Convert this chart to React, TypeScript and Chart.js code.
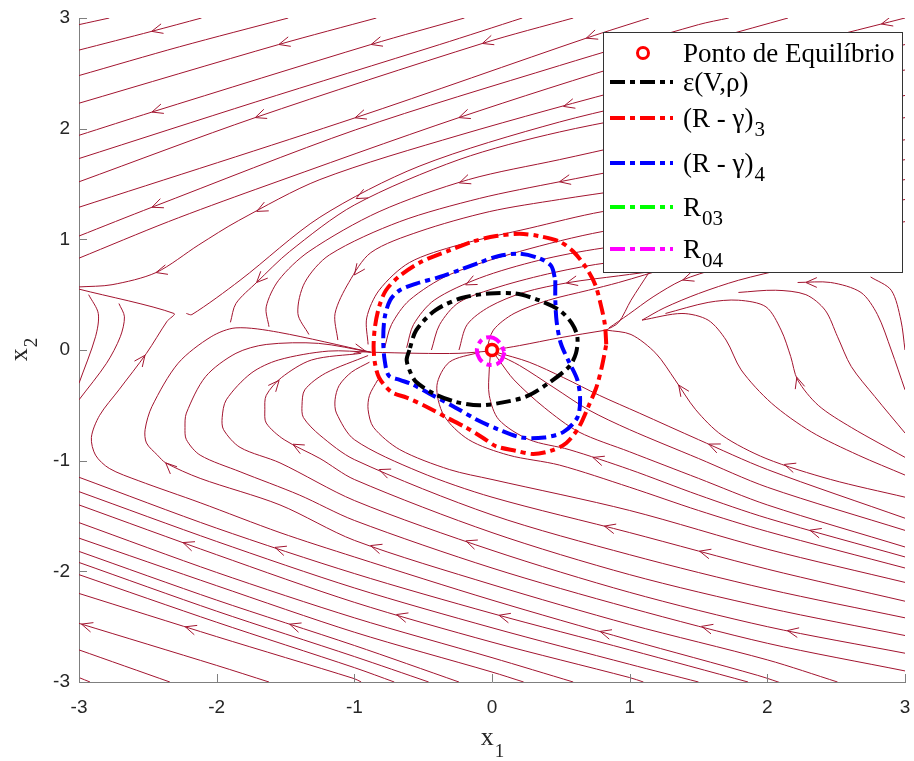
import React, { useEffect, useRef } from 'react';
import { Chart, registerables } from 'chart.js';

Chart.register(...registerables);

type Pt = [number, number];

// ---------------- axes ----------------
const xTickValues = [-3, -2, -1, 0, 1, 2, 3];
const yTickValues = [-3, -2, -1, 0, 1, 2, 3];

// ---------------- equilibrium point and regions ----------------
const equilibriumPoint: Pt[] = [[0, 0]];

const ellipseEps: Pt[] = [
  [-0.6, 0.0], [-0.62, -0.09], [-0.59, -0.21], [-0.55, -0.29], [-0.43, -0.39], [-0.26, -0.47],
  [-0.09, -0.5], [0.05, -0.48], [0.25, -0.42], [0.41, -0.3], [0.56, -0.15], [0.61, -0.03],
  [0.62, 0.12], [0.58, 0.24], [0.49, 0.36], [0.34, 0.45], [0.17, 0.51], [-0.02, 0.51],
  [-0.22, 0.47], [-0.41, 0.36], [-0.55, 0.18], [-0.6, 0.0],
];

const regionR3: Pt[] = [
  [0.83, 0.05], [0.82, 0.23], [0.79, 0.41], [0.75, 0.59], [0.68, 0.75], [0.59, 0.89], [0.49, 0.98],
  [0.34, 1.03], [0.2, 1.05], [0.03, 1.03], [-0.14, 0.98], [-0.31, 0.9], [-0.51, 0.8], [-0.67, 0.67],
  [-0.77, 0.54], [-0.82, 0.39], [-0.85, 0.21], [-0.86, 0.03], [-0.85, -0.12], [-0.82, -0.25],
  [-0.73, -0.38], [-0.62, -0.43], [-0.48, -0.51], [-0.33, -0.61], [-0.19, -0.7], [-0.07, -0.79],
  [0.03, -0.87], [0.17, -0.91], [0.3, -0.94], [0.43, -0.91], [0.54, -0.84], [0.63, -0.7],
  [0.7, -0.51], [0.76, -0.33], [0.8, -0.14], [0.83, 0.05],
];

const regionR4: Pt[] = [
  [0.46, 0.63], [0.46, 0.45], [0.47, 0.25], [0.5, 0.06], [0.56, -0.11], [0.62, -0.27], [0.64, -0.45],
  [0.62, -0.61], [0.52, -0.74], [0.38, -0.79], [0.21, -0.79], [0.05, -0.72], [-0.11, -0.63],
  [-0.28, -0.51], [-0.46, -0.39], [-0.58, -0.31], [-0.67, -0.27], [-0.75, -0.23], [-0.78, -0.09],
  [-0.79, 0.09], [-0.78, 0.29], [-0.74, 0.45], [-0.67, 0.54], [-0.55, 0.6], [-0.38, 0.66],
  [-0.22, 0.73], [-0.09, 0.79], [0.05, 0.85], [0.2, 0.87], [0.34, 0.83], [0.43, 0.76], [0.46, 0.63],
];

const regionR03: Pt[] = [
  [0.04, 0.0], [0.03, 0.035], [0.0, 0.05], [-0.03, 0.035], [-0.04, 0.0], [-0.03, -0.035], [0.0, -0.05],
  [0.03, -0.035], [0.04, 0.0],
];

const regionR04: Pt[] = [
  [0.09, -0.02], [0.07, -0.09], [0.03, -0.13], [-0.04, -0.13], [-0.09, -0.08], [-0.11, 0.0],
  [-0.09, 0.07], [-0.05, 0.11], [0.01, 0.11], [0.06, 0.06], [0.09, -0.02],
];

// ---------------- streamlines ----------------
const upperStreams: Pt[][] = [
  [[-3, 2.94], [-2.78, 3.0]],
  [[-3, 2.71], [-2.47, 2.88], [-2.11, 3.0]],
  [[-3, 2.48], [-2.27, 2.74], [-1.48, 3.0]],
  [[-3, 2.23], [-1.55, 2.76], [-0.84, 3.0]],
  [[-3, 1.94], [-2.47, 2.15], [-0.88, 2.76], [-0.2, 3.0]],
  [[-3, 1.73], [-1.72, 2.24], [-0.38, 2.76], [0.22, 3.0]],
  [[-3, 1.52], [-1.72, 2.1], [-0.07, 2.77], [0.59, 3.0]],
  [[-3, 1.29], [-0.99, 2.1], [0.69, 2.82], [1.14, 3.0]],
  [[-3, 1.03], [-2.47, 1.29], [-0.99, 1.99], [0.49, 2.57], [1.5, 2.94], [1.72, 3.0]],
  [[-3, 0.83], [-2.35, 1.16], [-1.72, 1.45], [-0.24, 2.1], [1.07, 2.62], [2.15, 3.0]],
  [[-3, 0.57], [-2.76, 0.59], [-2.44, 0.7], [-2.13, 0.95], [-1.84, 1.17], [-1.25, 1.54], [-0.24, 1.94], [1.07, 2.39], [3.0, 3.0]],
  [[-2.22, 0.33], [-2.18, 0.32], [-1.83, 0.63], [-1.25, 1.2], [-0.53, 1.66], [0.49, 2.06], [1.5, 2.35], [3.0, 2.76]],
];

const centreStreams: Pt[][] = [
  [[-1.9, 0.25], [-1.86, 0.42], [-1.71, 0.61], [-1.47, 0.89], [-1.0, 1.31], [-0.24, 1.72], [0.49, 1.97], [1.5, 2.21], [3.0, 2.53]],
  [[-1.62, 0.21], [-1.64, 0.39], [-1.55, 0.63], [-1.33, 0.89], [-0.82, 1.25], [-0.17, 1.54], [0.49, 1.72], [1.5, 1.99], [3.0, 2.3]],
  [[-1.33, 0.14], [-1.41, 0.33], [-1.36, 0.61], [-1.18, 0.86], [-0.67, 1.16], [-0.09, 1.37], [0.49, 1.52], [1.5, 1.76], [3.0, 2.1]],
  [[-1.12, 0.09], [-1.14, 0.33], [-1.04, 0.61], [-0.88, 0.88], [-0.53, 1.07], [-0.02, 1.25], [0.49, 1.36], [1.5, 1.55], [3.0, 1.9]],
  [[-0.9, 0.05], [-0.91, 0.29], [-0.82, 0.54], [-0.6, 0.79], [-0.24, 0.95], [0.27, 1.1], [0.8, 1.25], [1.5, 1.37], [3.0, 1.72]],
  [[-0.78, 0.02], [-0.73, 0.23], [-0.6, 0.45], [-0.31, 0.68], [0.2, 0.89], [0.8, 1.07], [1.5, 1.19], [3.0, 1.54]],
  [[-0.62, 0.02], [-0.57, 0.23], [-0.42, 0.45], [-0.09, 0.65], [0.34, 0.81], [0.8, 0.92], [1.64, 1.04], [3.0, 1.36]],
  [[-0.44, 0.0], [-0.38, 0.23], [-0.24, 0.43], [0.05, 0.57], [0.45, 0.7], [0.85, 0.79], [1.79, 0.9], [3.0, 1.16]],
  [[-0.24, 0.0], [-0.18, 0.23], [-0.02, 0.39], [0.23, 0.52], [0.56, 0.61], [0.92, 0.67], [1.6, 0.78]],
  [[-0.04, 0.0], [0.01, 0.18], [0.16, 0.33], [0.41, 0.45], [0.7, 0.54], [0.92, 0.61], [1.3, 0.75]],
  [[0.01, 0.0], [0.2, 0.04], [0.49, 0.11], [0.83, 0.18]],
  [[-0.88, -0.02], [-0.53, -0.03], [-0.24, -0.03], [-0.02, -0.01]],
];

const rightStreams: Pt[][] = [
  [[1.14, 0.7], [1.01, 0.45], [0.92, 0.25], [0.83, 0.18]],
  [[1.64, 0.74], [1.38, 0.63], [1.17, 0.48], [0.99, 0.32], [0.85, 0.2]],
  [[2.15, 0.74], [1.79, 0.63], [1.5, 0.51], [1.25, 0.38], [1.09, 0.27]],
  [[0.83, 0.18], [1.01, 0.14], [1.19, -0.03], [1.33, -0.27], [1.48, -0.54], [1.67, -0.77], [1.99, -0.98], [2.46, -1.17], [3.0, -1.33]],
  [[1.09, 0.27], [1.38, 0.33], [1.57, 0.27], [1.7, 0.09], [1.81, -0.18], [2.03, -0.48], [2.32, -0.74], [2.66, -0.95], [3.0, -1.13]],
  [[1.26, 0.33], [1.57, 0.43], [1.79, 0.45], [1.99, 0.39], [2.1, 0.18], [2.17, -0.06], [2.22, -0.27], [2.37, -0.5], [2.61, -0.7], [3.0, -0.97]],
  [[1.79, 0.52], [2.06, 0.54], [2.28, 0.5], [2.42, 0.36], [2.51, 0.12], [2.61, -0.15], [2.78, -0.42], [3.0, -0.75]],
  [[2.22, 0.61], [2.46, 0.61], [2.68, 0.52], [2.8, 0.32], [2.9, 0.0], [3.0, -0.36]],
  [[2.75, 0.66], [2.9, 0.54], [2.97, 0.27], [3.0, 0.0]],
  [[3.0, -1.52], [2.0, -1.08], [1.5, -0.81], [1.07, -0.57], [0.78, -0.41], [0.52, -0.25], [0.27, -0.11], [0.03, -0.02]],
  [[3.0, -1.63], [2.0, -1.24], [1.5, -0.98], [1.0, -0.72], [0.7, -0.54], [0.45, -0.34], [0.2, -0.14], [0.04, -0.04]],
  [[3.0, -1.78], [2.0, -1.4], [1.5, -1.16], [1.0, -0.92], [0.63, -0.74], [0.38, -0.52], [0.16, -0.27], [0.05, -0.09], [0.01, -0.02]],
  [[3.0, -1.87], [2.0, -1.52], [1.5, -1.31], [1.0, -1.08], [0.56, -0.9], [0.27, -0.81], [0.05, -0.63], [-0.02, -0.41], [-0.02, -0.18], [-0.01, -0.02]],
  [[3.0, -1.97], [2.0, -1.64], [1.5, -1.45], [1.0, -1.24], [0.49, -1.04], [0.12, -0.95], [-0.17, -0.81], [-0.35, -0.59], [-0.4, -0.32], [-0.31, -0.11], [-0.09, -0.02]],
];

const lowerStreams: Pt[][] = [
  [[-3, 0.55], [-2.31, 0.33], [-2.36, 0.26], [-2.51, -0.03], [-2.71, -0.36], [-2.85, -0.59], [-2.91, -0.79], [-2.88, -0.95], [-2.78, -1.07], [-2.57, -1.18], [-2.12, -1.38], [-1.54, -1.65], [-1.0, -1.87], [0.0, -2.26], [1.0, -2.62], [1.93, -2.94], [2.15, -3.03]],
  [[-0.88, -0.02], [-1.55, 0.16], [-1.86, 0.2], [-2.04, 0.12], [-2.28, -0.12], [-2.47, -0.51], [-2.52, -0.72], [-2.51, -0.84], [-2.43, -0.95], [-2.37, -1.02], [-2.12, -1.16], [-1.54, -1.4], [-1.0, -1.72], [0.0, -2.12], [1.0, -2.48], [2.0, -2.8], [2.51, -3.0]],
  [[-0.88, -0.02], [-1.26, 0.06], [-1.64, 0.05], [-1.86, -0.03], [-2.08, -0.24], [-2.22, -0.57], [-2.23, -0.7], [-2.22, -0.81], [-2.12, -0.95], [-1.83, -1.1], [-1.4, -1.31], [-1.0, -1.54], [0.0, -1.97], [1.0, -2.33], [2.0, -2.65], [3.0, -2.9]],
  [[-0.88, -0.02], [-1.19, -0.01], [-1.55, -0.09], [-1.75, -0.21], [-1.93, -0.45], [-1.96, -0.61], [-1.95, -0.72], [-1.83, -0.88], [-1.54, -1.02], [-1.0, -1.36], [0.0, -1.81], [1.0, -2.19], [2.0, -2.5], [3.0, -2.74]],
  [[-0.95, -0.03], [-1.31, -0.09], [-1.53, -0.25], [-1.64, -0.41], [-1.65, -0.54], [-1.64, -0.66], [-1.51, -0.81], [-1.25, -0.98], [-1.0, -1.17], [0.0, -1.65], [1.0, -2.03], [2.0, -2.33], [3.0, -2.58]],
  [[-0.9, -0.05], [-1.21, -0.21], [-1.36, -0.36], [-1.38, -0.5], [-1.37, -0.61], [-1.25, -0.77], [-1.0, -0.99], [0.0, -1.49], [1.0, -1.85], [2.0, -2.16], [3.0, -2.42]],
  [[-0.89, -0.11], [-1.02, -0.2], [-1.11, -0.32], [-1.14, -0.45], [-1.13, -0.57], [-1.0, -0.81], [-0.53, -1.1], [0.0, -1.33], [1.0, -1.65], [2.0, -1.98], [3.0, -2.27]],
  [[-0.83, -0.27], [-0.89, -0.41], [-0.9, -0.54], [-0.86, -0.7], [-0.67, -0.9], [-0.31, -1.08], [0.0, -1.17], [1.0, -1.45], [2.0, -1.8], [3.0, -2.1]],
];

const edgeStreams: Pt[][] = [
  [[-3, -1.15], [-2, -1.61], [-1, -2.02], [0, -2.38], [1, -2.71], [1.86, -3.0]],
  [[-3, -1.28], [-2, -1.73], [-1, -2.15], [0, -2.51], [1, -2.84], [1.5, -3.0]],
  [[-3, -1.4], [-2, -1.85], [-1, -2.28], [0, -2.64], [1, -2.96], [1.1, -3.0]],
  [[-3, -1.56], [-2, -2.01], [-1, -2.42], [0, -2.78], [0.59, -3.0]],
  [[-3, -1.7], [-2, -2.13], [-1, -2.55], [0, -2.91], [0.23, -3.0]],
  [[-3, -1.82], [-2, -2.26], [-1, -2.67], [-0.24, -3.0]],
  [[-3, -1.92], [-2, -2.36], [-1, -2.77], [-0.46, -3.0]],
  [[-3, -2.03], [-2, -2.46], [-1, -2.87], [-0.71, -3.0]],
  [[-3, -2.2], [-2, -2.59], [-1, -2.97], [-0.95, -3.0]],
  [[-3, -2.47], [-2, -2.85], [-1.62, -3.0]],
  [[-3, -2.71], [-2.34, -3.0]],
  [[-3, -2.96], [-2.92, -3.0]],
  [[-2.93, 0.5], [-2.86, 0.33], [-2.88, 0.12], [-3, -0.3]],
  [[-2.71, 0.42], [-2.67, 0.3], [-2.7, 0.12], [-2.8, -0.12], [-3, -0.45]],
];

// arrowheads: [x, y, direction x, direction y] in data units
const arrowHeads: [number, number, number, number][] = [
  [-2.47, 2.87, -1, -0.34], [-1.55, 2.77, -1, -0.37], [-0.88, 2.77, -1, -0.37], [-0.07, 2.77, -1, -0.37],
  [0.69, 2.8, -1, -0.4], [2.83, 2.94, -1, -0.37],
  [-2.47, 2.15, -1, -0.41], [-1.72, 2.1, -1, -0.44], [-0.99, 2.08, -1, -0.47], [-0.24, 2.1, -1, -0.5], [0.52, 2.2, -1, -0.56],
  [-2.47, 1.29, -1, -0.47], [-1.72, 1.28, -1, -0.56], [-1.0, 1.4, -1, -0.69], [-0.24, 1.52, -1, -0.75], [0.49, 1.52, -1, -0.75],
  [-2.44, 0.7, -1, -0.57], [-1.71, 0.61, -1, -1.17], [-0.98, 0.66, -1, -1.62], [-0.2, 0.61, -1, -1.12], [0.54, 0.61, -1, -0.75],
  [1.38, 0.65, -1, -0.69], [2.28, 0.61, -1, -0.02],
  [-0.92, -0.01, 1, 0.05],
  [-2.54, -0.03, 0.4, 1], [-1.55, -0.27, 0.48, 1], [1.41, -0.27, -0.48, 1], [2.15, -0.27, -0.36, 1],
  [-2.37, -1.02, -1, 0.75], [-1.48, -0.93, -1, 0.44], [-0.8, -1.02, -1, 0.44], [0.72, -1.02, -1, 0.5], [1.55, -0.92, -1, 0.56], [2.13, -1.01, -1, 0.5],
  [-2.25, -1.76, -1, 0.5], [-1.57, -1.76, -1, 0.5], [-0.88, -1.76, -1, 0.47], [-0.2, -1.76, -1, 0.45], [0.8, -1.67, -1, 0.41], [1.52, -1.76, -1, 0.4], [2.3, -1.67, -1, 0.37],
  [-2.98, -2.47, -1, 0.44], [-2.22, -2.47, -1, 0.41], [-1.46, -2.44, -1, 0.4], [-0.7, -2.42, -1, 0.37], [0.04, -2.45, -1, 0.37],
  [0.8, -2.48, -1, 0.35], [1.52, -2.51, -1, 0.34], [2.15, -2.51, -1, 0.32],
];

const legendLabels = ['Ponto de Equilíbrio', 'ε(V,ρ)', '(R - γ)', '(R - γ)', 'R', 'R'];
const legendSubscripts = ['', '', '3', '4', '03', '04'];
const legendColors = ['#ff0000', '#000000', '#ff0000', '#0000ff', '#00ff00', '#ff00ff'];

const xAxisTitle = ['x', '1'];
const yAxisTitle = ['x', '2'];

// ---------------- styling ----------------
const STREAM_COLOR = '#a2142f';
const AXIS_COLOR = '#7f7f7f';
const TEXT_COLOR = '#262626';
const DASH = [15, 5, 5, 5];
const SERIF = '"Liberation Serif", "Times New Roman", Times, serif';
const SANS = '"Liberation Sans", Arial, Helvetica, sans-serif';

const allStreams: Pt[][] = [...upperStreams, ...centreStreams, ...rightStreams, ...lowerStreams, ...edgeStreams];

const arrowPlugin = {
  id: 'streamArrows',
  beforeDatasetsDraw(chart: any) {
    const { ctx, chartArea, scales } = chart;
    const xs = scales.x;
    const ys = scales.y;
    const lines = allStreams.map((l) => l.map(([a, b]) => [xs.getPixelForValue(a), ys.getPixelForValue(b)]));
    ctx.save();
    ctx.beginPath();
    ctx.rect(chartArea.left, chartArea.top, chartArea.right - chartArea.left, chartArea.bottom - chartArea.top);
    ctx.clip();
    ctx.strokeStyle = STREAM_COLOR;
    ctx.lineWidth = 1;
    for (const [ax, ay, dx, dy] of arrowHeads) {
      const px = xs.getPixelForValue(ax);
      const py = ys.getPixelForValue(ay);
      const vx = xs.getPixelForValue(ax + dx * 0.1) - px;
      const vy = ys.getPixelForValue(ay + dy * 0.1) - py;
      let best = 14;
      let bx = px, by = py, tx = vx, ty = vy;
      for (const l of lines) {
        for (let i = 0; i < l.length - 1; i++) {
          const [x1, y1] = l[i];
          const [x2, y2] = l[i + 1];
          const sx = x2 - x1, sy = y2 - y1;
          const len2 = sx * sx + sy * sy;
          if (!len2) continue;
          let t = ((px - x1) * sx + (py - y1) * sy) / len2;
          t = Math.max(0, Math.min(1, t));
          const cx = x1 + t * sx, cy = y1 + t * sy;
          const d = Math.hypot(px - cx, py - cy);
          if (d < best) {
            best = d; bx = cx; by = cy;
            if (sx * vx + sy * vy < 0) { tx = -sx; ty = -sy; } else { tx = sx; ty = sy; }
          }
        }
      }
      const n = Math.hypot(tx, ty) || 1;
      const ux = tx / n, uy = ty / n;
      const L = 12, ang = 0.42;
      for (const s of [-1, 1]) {
        const c = Math.cos(ang), sn = Math.sin(ang) * s;
        const rx = -(ux * c - uy * sn), ry = -(ux * sn + uy * c);
        ctx.beginPath();
        ctx.moveTo(bx, by);
        ctx.lineTo(bx + L * rx, by + L * ry);
        ctx.stroke();
      }
    }
    ctx.restore();
  },
};

const axisPlugin = {
  id: 'axisDecor',
  afterDatasetsDraw(chart: any) {
    const { ctx, chartArea, scales } = chart;
    ctx.save();
    ctx.strokeStyle = AXIS_COLOR;
    ctx.lineWidth = 1;
    for (const v of xTickValues) {
      const p = Math.round(scales.x.getPixelForValue(v)) + 0.5;
      ctx.beginPath();
      ctx.moveTo(p, chartArea.bottom);
      ctx.lineTo(p, chartArea.bottom - 8);
      ctx.stroke();
    }
    for (const v of yTickValues) {
      const p = Math.round(scales.y.getPixelForValue(v)) + 0.5;
      ctx.beginPath();
      ctx.moveTo(chartArea.left, p);
      ctx.lineTo(chartArea.left + 8, p);
      ctx.stroke();
    }
    ctx.restore();
  },
  afterDraw(chart: any) {
    const { ctx, chartArea } = chart;
    ctx.save();
    ctx.fillStyle = TEXT_COLOR;
    ctx.textBaseline = 'alphabetic';
    ctx.textAlign = 'left';
    // x title
    ctx.font = `26px ${SERIF}`;
    const wx = ctx.measureText(xAxisTitle[0]).width;
    ctx.font = `19px ${SERIF}`;
    const w1 = ctx.measureText(xAxisTitle[1]).width;
    const cx = (chartArea.left + chartArea.right) / 2;
    const x0 = cx - (wx + w1) / 2;
    ctx.font = `26px ${SERIF}`;
    ctx.fillText(xAxisTitle[0], x0, 745);
    ctx.font = `19px ${SERIF}`;
    ctx.fillText(xAxisTitle[1], x0 + wx + 1, 757);
    // y title (rotated)
    const cy = (chartArea.top + chartArea.bottom) / 2;
    ctx.translate(27, cy);
    ctx.rotate(-Math.PI / 2);
    ctx.font = `26px ${SERIF}`;
    const wy = ctx.measureText(yAxisTitle[0]).width;
    ctx.font = `19px ${SERIF}`;
    const w2 = ctx.measureText(yAxisTitle[1]).width;
    const y0 = -(wy + w2) / 2;
    ctx.font = `26px ${SERIF}`;
    ctx.fillText(yAxisTitle[0], y0, 0);
    ctx.font = `19px ${SERIF}`;
    ctx.fillText(yAxisTitle[1], y0 + wy + 1, 10);
    ctx.restore();
  },
};

const legendPlugin = {
  id: 'customLegend',
  afterDraw(chart: any) {
    const { ctx } = chart;
    const left = 603, top = 32, right = 902, bottom = 272;
    const rows = [53, 82, 118, 163, 207, 249];
    ctx.save();
    ctx.fillStyle = '#ffffff';
    ctx.fillRect(left, top, right - left, bottom - top);
    ctx.strokeStyle = '#333333';
    ctx.lineWidth = 1;
    ctx.strokeRect(left + 0.5, top + 0.5, right - left, bottom - top);
    legendLabels.forEach((label, i) => {
      const y = rows[i];
      if (i === 0) {
        ctx.beginPath();
        ctx.strokeStyle = legendColors[i];
        ctx.lineWidth = 3;
        ctx.arc(643, y, 5.5, 0, Math.PI * 2);
        ctx.stroke();
      } else {
        ctx.beginPath();
        ctx.strokeStyle = legendColors[i];
        ctx.lineWidth = 4;
        ctx.setLineDash(DASH);
        ctx.moveTo(610, y);
        ctx.lineTo(673, y);
        ctx.stroke();
        ctx.setLineDash([]);
      }
      ctx.fillStyle = '#000000';
      ctx.textAlign = 'left';
      ctx.textBaseline = 'alphabetic';
      ctx.font = `27px ${SERIF}`;
      const base = y + 9;
      ctx.fillText(label, 683, base);
      const sub = legendSubscripts[i];
      if (sub) {
        const w = ctx.measureText(label).width;
        ctx.font = `21px ${SERIF}`;
        ctx.fillText(sub, 683 + w + 1, base + 9);
      }
    });
    ctx.restore();
  },
};

export default function App() {
  const ref = useRef<HTMLCanvasElement>(null);

  useEffect(() => {
    const canvas = ref.current;
    if (!canvas) return;
    const toXY = (pts: Pt[]) => pts.map(([x, y]) => ({ x, y }));
    const streamSets = allStreams.map((line) => ({
      data: toXY(line),
      showLine: true,
      borderColor: STREAM_COLOR,
      borderWidth: 1,
      pointRadius: 0,
      tension: 0.3,
      fill: false,
      order: 5,
    }));
    const contour = (pts: Pt[], color: string, width = 4) => ({
      data: toXY(pts),
      showLine: true,
      borderColor: color,
      borderWidth: width,
      borderDash: DASH,
      pointRadius: 0,
      tension: 0.3,
      fill: false,
      order: 2,
    });
    const datasets: any[] = [
      ...streamSets,
      contour(regionR03, '#00ff00', 2),
      contour(regionR04, '#ff00ff'),
      contour(ellipseEps, '#000000'),
      contour(regionR4, '#0000ff'),
      contour(regionR3, '#ff0000'),
      {
        data: toXY(equilibriumPoint),
        showLine: false,
        pointRadius: 5.5,
        pointBorderWidth: 3.5,
        pointBorderColor: '#ff0000',
        pointBackgroundColor: '#ffffff',
        order: 1,
      },
    ];

    const chart = new Chart(canvas, {
      type: 'scatter',
      data: { datasets },
      options: {
        animation: false,
        responsive: false,
        devicePixelRatio: 1,
        events: [],
        layout: { padding: { top: 18, right: 8, left: 0, bottom: 0 } },
        plugins: { legend: { display: false }, tooltip: { enabled: false } },
        scales: {
          x: {
            type: 'linear',
            min: -3,
            max: 3,
            afterBuildTicks: (s: any) => { s.ticks = xTickValues.map((v) => ({ value: v })); },
            afterFit: (s: any) => { s.height = 79; s.paddingLeft = 0; s.paddingRight = 0; s.paddingTop = 0; s.paddingBottom = 0; },
            ticks: { color: TEXT_COLOR, font: { family: SANS, size: 19 }, padding: 14, maxRotation: 0, autoSkip: false },
            grid: { display: false, drawTicks: false },
            border: { display: true, color: AXIS_COLOR, width: 1 },
          },
          y: {
            type: 'linear',
            min: -3,
            max: 3,
            afterBuildTicks: (s: any) => { s.ticks = yTickValues.map((v) => ({ value: v })); },
            afterFit: (s: any) => { s.width = 79; s.paddingLeft = 0; s.paddingRight = 0; s.paddingTop = 0; s.paddingBottom = 0; },
            ticks: { color: TEXT_COLOR, font: { family: SANS, size: 19 }, padding: 9, autoSkip: false },
            grid: { display: false, drawTicks: false },
            border: { display: true, color: AXIS_COLOR, width: 1 },
          },
        },
      } as any,
      plugins: [arrowPlugin, axisPlugin, legendPlugin],
    });
    return () => chart.destroy();
  }, []);

  return (
    <div style={{ position: 'fixed', left: 0, top: 0, width: 914, height: 761, background: '#ffffff' }}>
      <canvas ref={ref} width={914} height={761} style={{ display: 'block', width: 914, height: 761 }} />
    </div>
  );
}
